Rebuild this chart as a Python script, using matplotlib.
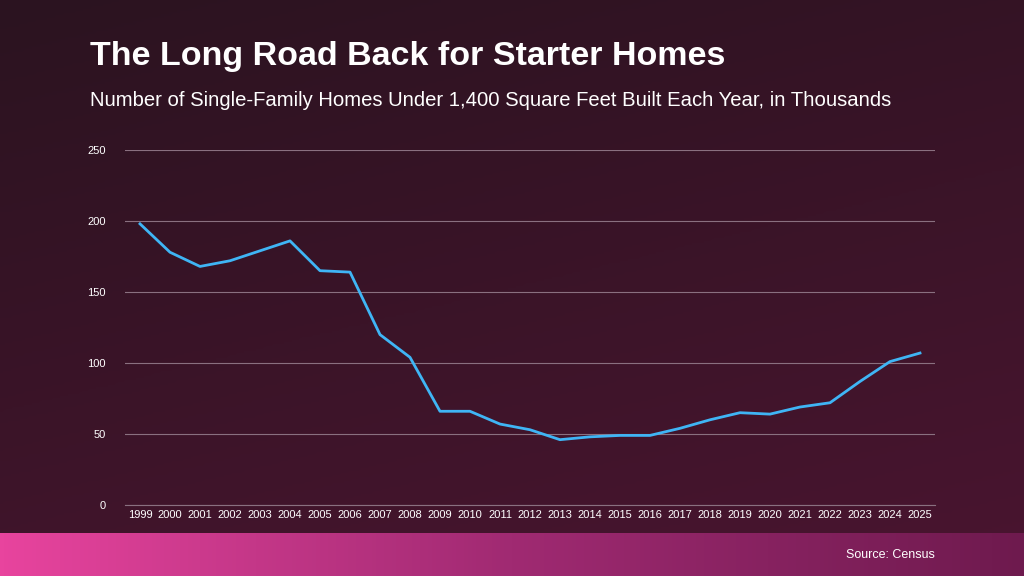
import numpy as np
import matplotlib.pyplot as plt
from matplotlib.colors import LinearSegmentedColormap

years = [str(y) for y in range(1999, 2026)]
homes = [198, 178, 168, 172, 179, 186, 165, 164, 120, 104, 66, 66, 57, 53, 46,
         48, 49, 49, 54, 60, 65, 64, 69, 72, 87, 101, 107]
y_ticks = [0, 50, 100, 150, 200, 250]

fig = plt.figure(figsize=(10.24, 5.76), dpi=100)

# background gradient
bg = fig.add_axes([0, 0, 1, 1], zorder=-10)
bg_cmap = LinearSegmentedColormap.from_list('bg', ['#2b1320', '#4a1530'])
grad = np.linspace(0, 1, 256).reshape(-1, 1) * 0.7 + np.linspace(0, 0.3, 256).reshape(1, -1)
bg.imshow(grad, cmap=bg_cmap, aspect='auto', extent=[0, 1, 0, 1], origin='upper')
bg.axis('off')

# footer band
band = fig.add_axes([0, 0, 1, 43 / 576], zorder=-5)
band_cmap = LinearSegmentedColormap.from_list('band', ['#e8449e', '#a02a72', '#6e1a4e'])
band.imshow(np.linspace(0, 1, 256).reshape(1, -1), cmap=band_cmap, aspect='auto', extent=[0, 1, 0, 1])
band.axis('off')

fig.text(90 / 1024, 1 - 57 / 576, 'The Long Road Back for Starter Homes', color='white',
         fontsize=24.5, fontweight='bold', va='center', family='Liberation Sans')
fig.text(90 / 1024, 1 - 100 / 576,
         'Number of Single-Family Homes Under 1,400 Square Feet Built Each Year, in Thousands',
         color='white', fontsize=14.6, va='center', family='Liberation Sans')
fig.text(935 / 1024, 1 - 555 / 576, 'Source: Census', color='white', fontsize=9,
         ha='right', va='center', family='Liberation Sans')

ax = fig.add_axes([125 / 1024, 1 - 505 / 576, 810 / 1024, 355 / 576])
ax.patch.set_alpha(0)
x = np.arange(len(years))
ax.plot(x, homes, color='#3fb5f5', linewidth=2)
ax.set_xlim(-0.5, len(years) - 0.5)
ax.set_ylim(0, 250)
ax.set_yticks(y_ticks)
ax.set_xticks(x)
ax.set_xticklabels(years)
ax.grid(axis='y', color='#8a7080', linewidth=0.8)
ax.set_axisbelow(True)
for s in ax.spines.values():
    s.set_visible(False)
ax.spines['bottom'].set_visible(True)
ax.spines['bottom'].set_color('#8a7080')
ax.tick_params(colors='white', length=0, labelsize=8)
for lbl in ax.get_xticklabels() + ax.get_yticklabels():
    lbl.set_family('Liberation Sans')
ax.tick_params(axis='y', pad=14)

fig.savefig('out.png', dpi=100)
